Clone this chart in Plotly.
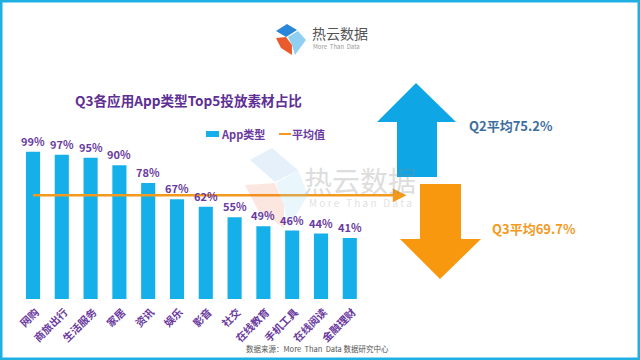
import plotly.graph_objects as go

categories = ["网购", "商旅出行", "生活服务", "家居", "资讯", "娱乐", "影音", "社交",
              "在线教育", "手机工具", "在线阅读", "金融理财"]
values = [99, 97, 95, 90, 78, 67, 62, 55, 49, 46, 44, 41]
q3_avg = 69.7
q2_avg = 75.2
value_labels = [f"{v}%" for v in values]
legend_names = ["App类型", "平均值"]

W, H = 640, 360
PURPLE = "#6a3aa0"
BAR = "#15b0ea"
ORANGE = "#f39a1e"
FONT = "Noto Sans CJK SC, Noto Sans, sans-serif"


def px(x):
    return x / W


def py(y):
    return 1 - y / H


def path(points):
    return "M " + " L ".join(f"{px(x):.4f},{py(y):.4f}" for x, y in points) + " Z"


step = 28.8
x0_px = 33 - step / 2
xr = [-0.5, 13.4]
x_dom = [px(x0_px), px(x0_px + (xr[1] - xr[0]) * step)]
y_dom = [py(299), py(150.3)]

xs = list(range(len(categories)))

fig = go.Figure()
fig.add_trace(go.Bar(
    x=xs, y=values, name=legend_names[0], width=0.49,
    marker=dict(color=BAR, line=dict(width=0)), showlegend=False,
))
fig.add_trace(go.Scatter(
    x=[0, 12.7], y=[q3_avg, q3_avg], name=legend_names[1], mode="lines",
    line=dict(color=ORANGE, width=2.5), cliponaxis=False, showlegend=False,
))

annotations = [
    dict(x=x, y=v, xref="x", yref="y", text=t, showarrow=False, yanchor="middle", yshift=11,
         font=dict(color=PURPLE, size=11, family=FONT, weight="bold"))
    for x, v, t in zip(xs, values, value_labels)
]
annotations += [
    dict(x=12.97, y=q3_avg, ax=12.5, ay=q3_avg, xref="x", yref="y", axref="x", ayref="y",
         showarrow=True, arrowhead=2, arrowsize=1.1, arrowwidth=2.5, arrowcolor=ORANGE, text=""),
    # legend texts
    dict(x=px(219), y=py(134), xref="paper", yref="paper", xanchor="left", yanchor="middle",
         text=f"<b>{legend_names[0]}</b>", showarrow=False,
         font=dict(size=11, color=PURPLE, family=FONT)),
    dict(x=px(290), y=py(134), xref="paper", yref="paper", xanchor="left", yanchor="middle",
         text=f"<b>{legend_names[1]}</b>", showarrow=False,
         font=dict(size=11, color=PURPLE, family=FONT)),
    dict(x=px(73), y=py(100), xref="paper", yref="paper", xanchor="left", yanchor="middle",
         text="<b>Q3各应用App类型Top5投放素材占比</b>", showarrow=False,
         font=dict(size=13.6, color="#5e2f94", family=FONT)),
    dict(x=px(310), y=py(33), xref="paper", yref="paper", xanchor="left", yanchor="middle",
         text="热云数据", showarrow=False, font=dict(size=14, color="#555555", family=FONT)),
    dict(x=px(311), y=py(46), xref="paper", yref="paper", xanchor="left", yanchor="middle",
         text="More  Than  Data", showarrow=False, font=dict(size=6, color="#999999", family=FONT)),
    dict(x=px(360), y=py(180), xref="paper", yref="paper", xanchor="center", yanchor="middle",
         text="热云数据", showarrow=False, opacity=0.28,
         font=dict(size=28, color="#888888", family=FONT)),
    dict(x=px(360), y=py(202), xref="paper", yref="paper", xanchor="center", yanchor="middle",
         text="M o r e   T h a n   D a t a", showarrow=False, opacity=0.25,
         font=dict(size=10, color="#888888", family=FONT)),
    dict(x=px(467), y=py(126), xref="paper", yref="paper", xanchor="left", yanchor="middle",
         text=f"<b>Q2平均{q2_avg}%</b>", showarrow=False,
         font=dict(size=13, color="#3d6e9e", family=FONT)),
    dict(x=px(490), y=py(228), xref="paper", yref="paper", xanchor="left", yanchor="middle",
         text=f"<b>Q3平均{q3_avg}%</b>", showarrow=False,
         font=dict(size=13, color=ORANGE, family=FONT)),
    dict(x=px(317), y=py(348), xref="paper", yref="paper", xanchor="center", yanchor="middle",
         text="数据来源：More  Than  Data 数据研究中心", showarrow=False,
         font=dict(size=7.5, color="#555555", family=FONT)),
]

shapes = [
    # frame
    dict(type="rect", xref="paper", yref="paper", x0=0, y0=0, x1=1, y1=1,
         line=dict(color="#1fb0e2", width=5), layer="above"),
    # legend symbols
    dict(type="rect", xref="paper", yref="paper", x0=px(206), x1=px(219), y0=py(137), y1=py(131),
         fillcolor=BAR, line=dict(width=0)),
    dict(type="line", xref="paper", yref="paper", x0=px(279), x1=px(291), y0=py(134), y1=py(134),
         line=dict(color=ORANGE, width=2)),
    # top logo
    dict(type="path", xref="paper", yref="paper", path=path([(276, 31), (287, 24), (297, 30), (286, 37)]),
         fillcolor="#2a86d8", line=dict(width=0)),
    dict(type="path", xref="paper", yref="paper", path=path([(288, 37), (298, 31), (306, 40), (295, 55), (292, 45)]),
         fillcolor="#8fd0f2", line=dict(width=0)),
    dict(type="path", xref="paper", yref="paper", path=path([(276, 38), (286, 37), (292, 45), (292, 55), (281, 48)]),
         fillcolor="#ea5a2c", line=dict(width=0)),
    # watermark logo
    dict(type="path", xref="paper", yref="paper", path=path([(250, 160), (272, 148), (298, 170), (275, 182)]),
         fillcolor="#2a86d8", opacity=0.12, line=dict(width=0)),
    dict(type="path", xref="paper", yref="paper", path=path([(276, 183), (298, 170), (308, 195), (288, 228), (284, 205)]),
         fillcolor="#8fd0f2", opacity=0.2, line=dict(width=0)),
    dict(type="path", xref="paper", yref="paper", path=path([(245, 185), (275, 183), (284, 205), (284, 228), (258, 210)]),
         fillcolor="#ea5a2c", opacity=0.15, line=dict(width=0)),
    # blue up arrow
    dict(type="path", xref="paper", yref="paper",
         path=path([(416, 83), (456, 122), (437, 122), (437, 177), (397, 177), (397, 122), (377, 122)]),
         fillcolor="#0fa6e6", line=dict(width=0)),
    # orange down arrow
    dict(type="path", xref="paper", yref="paper",
         path=path([(420, 184), (461, 184), (461, 239), (481, 239), (440, 279), (400, 239), (420, 239)]),
         fillcolor="#f7980f", line=dict(width=0)),
]

fig.update_layout(
    width=W, height=H,
    margin=dict(l=0, r=0, t=0, b=0, autoexpand=False),
    paper_bgcolor="white", plot_bgcolor="rgba(0,0,0,0)",
    font=dict(family=FONT),
    showlegend=False,
    xaxis=dict(domain=x_dom, range=xr, tickmode="array", tickvals=xs, ticktext=categories,
               tickangle=-45, showgrid=False, zeroline=False, showline=False, ticks="",
               automargin=False, ticklabelstandoff=4, ticklabelshift=3,
               tickfont=dict(size=10.5, color=PURPLE, family=FONT, weight="bold")),
    yaxis=dict(domain=y_dom, range=[0, 100], visible=False, showgrid=False, zeroline=False,
               automargin=False),
    annotations=annotations,
    shapes=shapes,
    bargap=0.5,
)

fig.write_html("out.html", config={"displayModeBar": False},
               post_script="document.body.style.margin='0';document.body.style.overflow='hidden';")
